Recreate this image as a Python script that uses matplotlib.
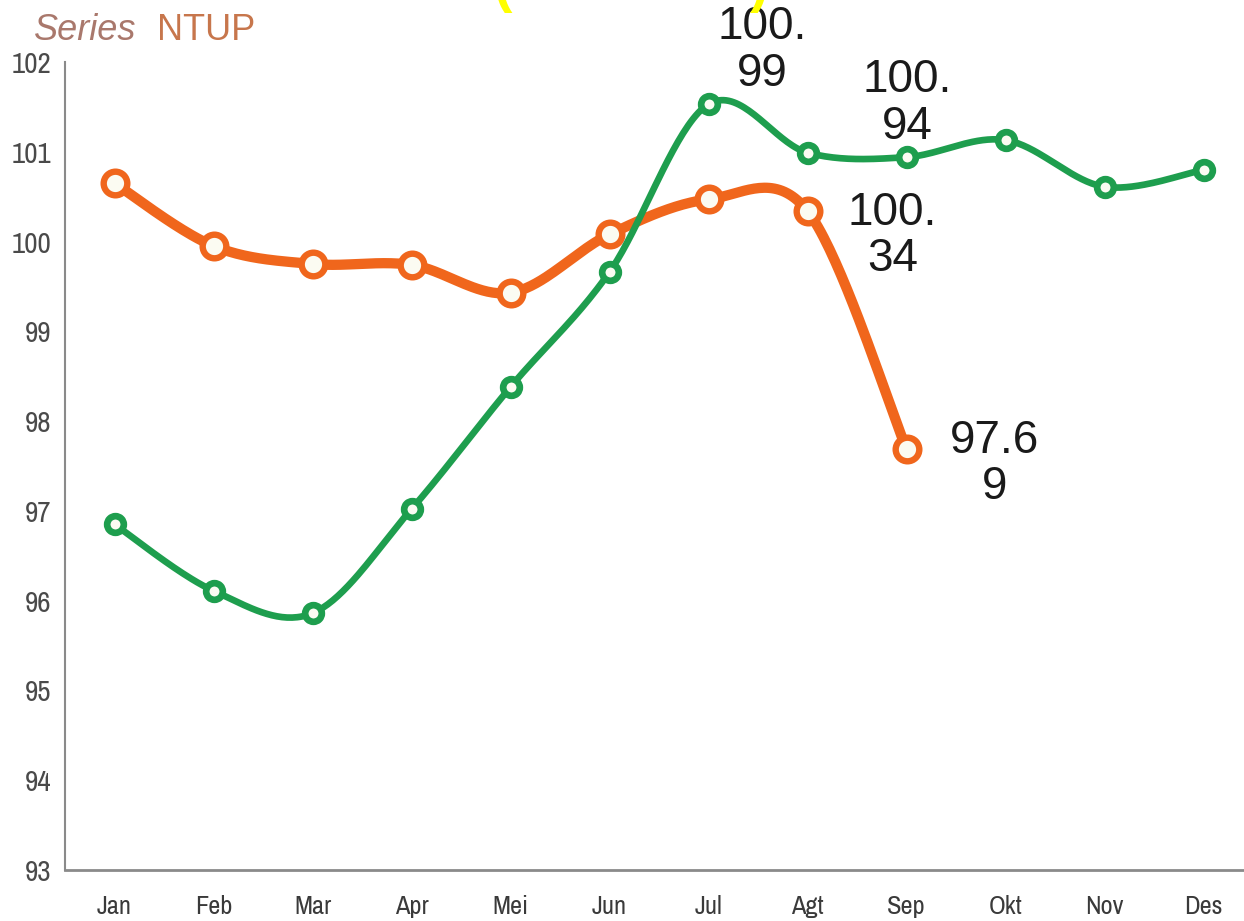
import numpy as np
import matplotlib
matplotlib.use("Agg")
import matplotlib.pyplot as plt
from matplotlib import font_manager

# ---- data -------------------------------------------------------------
months = ["Jan", "Feb", "Mar", "Apr", "Mei", "Jun", "Jul", "Agt", "Sep", "Okt", "Nov", "Des"]
series_vals = [96.85, 96.11, 95.86, 97.02, 98.38, 99.66, 101.53, 100.99, 100.94, 101.13, 100.61, 100.80]
ntup_vals = [100.65, 99.95, 99.75, 99.74, 99.43, 100.08, 100.47, 100.34, 97.69]
y_ticks = [93, 94, 95, 96, 97, 98, 99, 100, 101, 102]

series_labelled = [7, 8]
ntup_labelled = [7, 8]

GREEN = "#1E9E4E"
ORANGE = "#F0661C"
FILL = "#FBFBF2"
ARIAL = ["Liberation Sans", "DejaVu Sans"]

# prefer a narrow sans for the axis labels when one is installed
_installed = {f.name for f in font_manager.fontManager.ttflist}
_narrow = [n for n in sorted(_installed) if ("Narrow" in n or "Condensed" in n)]
NARROW = (_narrow[:1] or []) + ARIAL
_stretch = "condensed"


def smooth(xs, ys, n=40):
    """Cubic Bezier smoothing through every point (Catmull-Rom handles)."""
    pts = np.column_stack([xs, ys]).astype(float)
    out = []
    t = np.linspace(0, 1, n)[:, None]
    for i in range(len(pts) - 1):
        p0 = pts[i - 1] if i > 0 else pts[i]
        p1, p2 = pts[i], pts[i + 1]
        p3 = pts[i + 2] if i + 2 < len(pts) else pts[i + 1]
        c1 = p1 + (p2 - p0) / 6.0
        c2 = p2 - (p3 - p1) / 6.0
        seg = (1 - t) ** 3 * p1 + 3 * (1 - t) ** 2 * t * c1 + 3 * (1 - t) * t ** 2 * c2 + t ** 3 * p2
        out.append(seg if i == 0 else seg[1:])
    return np.vstack(out)


def wrap_value(v, width=4):
    s = f"{v:.2f}"
    return "\n".join(s[i:i + width] for i in range(0, len(s), width))


W, H, DPI = 1244, 921, 100
fig = plt.figure(figsize=(W / DPI, H / DPI), dpi=DPI)
ax = fig.add_axes([65 / W, 51 / H, (1253 - 65) / W, (870 - 62) / H])

x_s = np.arange(len(series_vals))
x_n = np.arange(len(ntup_vals))

# NTUP line (orange)
cn = smooth(x_n, ntup_vals)
ax.plot(cn[:, 0], cn[:, 1], color=ORANGE, lw=7.4, solid_capstyle="round", zorder=3)
ax.plot(x_n, ntup_vals, ls="none", marker="o", ms=17, mew=4.6,
        mfc=FILL, mec=ORANGE, zorder=4, clip_on=False)

# Series line (green)
cs = smooth(x_s, series_vals)
ax.plot(cs[:, 0], cs[:, 1], color=GREEN, lw=4.8, solid_capstyle="round", zorder=5)
ax.plot(x_s, series_vals, ls="none", marker="o", ms=12, mew=4.8,
        mfc=FILL, mec=GREEN, zorder=6, clip_on=False)

label_kw = dict(textcoords="offset pixels", ha="center", va="center",
                fontsize=33, color="#1a1a1a", family=ARIAL, linespacing=1.08,
                zorder=8, annotation_clip=False)
series_offsets = {7: (-45, 102), 8: (1, 54)}
ntup_offsets = {7: (85, -25), 8: (88, -15)}
for i in series_labelled:
    ax.annotate(wrap_value(series_vals[i]), xy=(i, series_vals[i]),
                xytext=series_offsets[i], **label_kw)
for i in ntup_labelled:
    ax.annotate(wrap_value(ntup_vals[i]), xy=(i, ntup_vals[i]),
                xytext=ntup_offsets[i], **label_kw)

# axes styling
ax.set_xlim(-0.5, len(months) - 0.5)
ax.set_ylim(y_ticks[0], y_ticks[-1])
ax.set_xticks(np.arange(len(months)))
ax.set_xticklabels(months, family=NARROW, fontstretch=_stretch, fontsize=19, color="#3a3a3a")
ax.set_yticks(y_ticks)
ax.set_yticklabels([str(v) for v in y_ticks], family=NARROW, fontstretch=_stretch,
                   fontsize=21, color="#4a4a4a")
ax.tick_params(axis="both", length=0)
ax.tick_params(axis="x", pad=18)
ax.tick_params(axis="y", pad=10)
for side in ("top", "right"):
    ax.spines[side].set_visible(False)
ax.spines["left"].set_color("#8a8a8a")
ax.spines["left"].set_linewidth(1.5)
ax.spines["bottom"].set_color("#8a8a8a")
ax.spines["bottom"].set_linewidth(2.0)

# title
fig.text(34 / W, 1 - 40 / H, "Series", fontsize=26, style="italic",
         color="#A9786C", family=ARIAL, va="baseline", ha="left")
fig.text(157 / W, 1 - 40 / H, "NTUP", fontsize=26,
         color="#C7764C", family=ARIAL, va="baseline", ha="left")

# yellow heading running off the top edge
fig.text(502 / W, 1 - 1 / H, "(", fontsize=40, color="#FFFF00", weight="bold",
         family=ARIAL, va="baseline", ha="center")
fig.text(759 / W, 1 - 1 / H, ")", fontsize=40, color="#FFFF00", weight="bold",
         family=ARIAL, va="baseline", ha="center")

fig.savefig("out.png", dpi=DPI)
